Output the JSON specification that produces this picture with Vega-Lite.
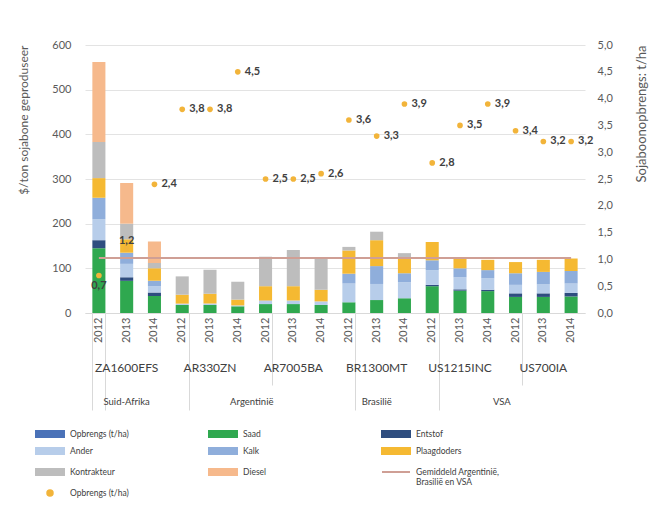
{
  "$schema": "https://vega.github.io/schema/vega-lite/v6.json",
  "width": 500,
  "height": 268,
  "autosize": {"type": "none"},
  "padding": {"left": 85, "top": 45, "right": 74, "bottom": 202},
  "background": "white",
  "config": {
    "font": "Lato",
    "view": {"stroke": null},
    "locale": {"number": {"decimal": ",", "thousands": " ", "grouping": [3], "currency": ["$", ""]}},
    "axis": {"labelFont": "Lato", "titleFont": "Lato", "labelColor": "#595959", "titleColor": "#595959", "titleFontWeight": "normal"}
  },
  "datasets": {
    "rank": [
      {"series": "Saad", "rank": 1},
      {"series": "Entstof", "rank": 2},
      {"series": "Ander", "rank": 3},
      {"series": "Kalk", "rank": 4},
      {"series": "Plaagdoders", "rank": 5},
      {"series": "Kontrakteur", "rank": 6},
      {"series": "Diesel", "rank": 7}
    ],
    "d": [
      {"key": "ZA1600EFS|2012", "Saad": 145, "Entstof": 18, "Ander": 47, "Kalk": 48, "Plaagdoders": 44, "Kontrakteur": 81, "Diesel": 179, "opbrengs": 0.7, "gemiddeld": 123},
      {"key": "ZA1600EFS|2013", "Saad": 72, "Entstof": 8, "Ander": 30, "Kalk": 25, "Plaagdoders": 30, "Kontrakteur": 35, "Diesel": 91, "opbrengs": 1.2, "gemiddeld": 123},
      {"key": "ZA1600EFS|2014", "Saad": 38, "Entstof": 8, "Ander": 14, "Kalk": 12, "Plaagdoders": 28, "Kontrakteur": 12, "Diesel": 48, "opbrengs": 2.4, "gemiddeld": 123},
      {"key": "AR330ZN|2012", "Saad": 18, "Entstof": 0, "Ander": 3, "Kalk": 0, "Plaagdoders": 20, "Kontrakteur": 41, "Diesel": 0, "opbrengs": 3.8, "gemiddeld": 123},
      {"key": "AR330ZN|2013", "Saad": 18, "Entstof": 0, "Ander": 3, "Kalk": 0, "Plaagdoders": 22, "Kontrakteur": 54, "Diesel": 0, "opbrengs": 3.8, "gemiddeld": 123},
      {"key": "AR330ZN|2014", "Saad": 15, "Entstof": 0, "Ander": 2, "Kalk": 0, "Plaagdoders": 13, "Kontrakteur": 40, "Diesel": 0, "opbrengs": 4.5, "gemiddeld": 123},
      {"key": "AR7005BA|2012", "Saad": 20, "Entstof": 0, "Ander": 6, "Kalk": 2, "Plaagdoders": 32, "Kontrakteur": 66, "Diesel": 0, "opbrengs": 2.5, "gemiddeld": 123},
      {"key": "AR7005BA|2013", "Saad": 20, "Entstof": 0, "Ander": 8, "Kalk": 0, "Plaagdoders": 32, "Kontrakteur": 81, "Diesel": 0, "opbrengs": 2.5, "gemiddeld": 123},
      {"key": "AR7005BA|2014", "Saad": 18, "Entstof": 0, "Ander": 8, "Kalk": 0, "Plaagdoders": 26, "Kontrakteur": 73, "Diesel": 0, "opbrengs": 2.6, "gemiddeld": 123},
      {"key": "BR1300MT|2012", "Saad": 24, "Entstof": 0, "Ander": 42, "Kalk": 22, "Plaagdoders": 52, "Kontrakteur": 8, "Diesel": 0, "opbrengs": 3.6, "gemiddeld": 123},
      {"key": "BR1300MT|2013", "Saad": 29, "Entstof": 0, "Ander": 36, "Kalk": 40, "Plaagdoders": 58, "Kontrakteur": 19, "Diesel": 0, "opbrengs": 3.3, "gemiddeld": 123},
      {"key": "BR1300MT|2014", "Saad": 33, "Entstof": 0, "Ander": 36, "Kalk": 20, "Plaagdoders": 36, "Kontrakteur": 9, "Diesel": 0, "opbrengs": 3.9, "gemiddeld": 123},
      {"key": "US1215INC|2012", "Saad": 60, "Entstof": 3, "Ander": 33, "Kalk": 22, "Plaagdoders": 41, "Kontrakteur": 0, "Diesel": 0, "opbrengs": 2.8, "gemiddeld": 123},
      {"key": "US1215INC|2013", "Saad": 50, "Entstof": 3, "Ander": 27, "Kalk": 20, "Plaagdoders": 25, "Kontrakteur": 0, "Diesel": 0, "opbrengs": 3.5, "gemiddeld": 123},
      {"key": "US1215INC|2014", "Saad": 49, "Entstof": 3, "Ander": 26, "Kalk": 18, "Plaagdoders": 23, "Kontrakteur": 0, "Diesel": 0, "opbrengs": 3.9, "gemiddeld": 123},
      {"key": "US700IA|2012", "Saad": 36, "Entstof": 8, "Ander": 19, "Kalk": 26, "Plaagdoders": 25, "Kontrakteur": 0, "Diesel": 0, "opbrengs": 3.4, "gemiddeld": 123},
      {"key": "US700IA|2013", "Saad": 36, "Entstof": 8, "Ander": 20, "Kalk": 28, "Plaagdoders": 27, "Kontrakteur": 0, "Diesel": 0, "opbrengs": 3.2, "gemiddeld": 123},
      {"key": "US700IA|2014", "Saad": 37, "Entstof": 8, "Ander": 21, "Kalk": 28, "Plaagdoders": 28, "Kontrakteur": 0, "Diesel": 0, "opbrengs": 3.2, "gemiddeld": 123}
    ]
  },
  "data": {"name": "d"},
  "layer": [
    {
      "transform": [
        {"fold": ["Saad", "Entstof", "Ander", "Kalk", "Plaagdoders", "Kontrakteur", "Diesel"], "as": ["series", "cost"]},
        {"lookup": "series", "from": {"data": {"name": "rank"}, "key": "series", "fields": ["rank"]}}
      ],
      "mark": {"type": "bar"},
      "encoding": {
        "x": {
          "field": "key", "type": "nominal",
          "scale": {"domain": ["ZA1600EFS|2012","ZA1600EFS|2013","ZA1600EFS|2014","AR330ZN|2012","AR330ZN|2013","AR330ZN|2014","AR7005BA|2012","AR7005BA|2013","AR7005BA|2014","BR1300MT|2012","BR1300MT|2013","BR1300MT|2014","US1215INC|2012","US1215INC|2013","US1215INC|2014","US700IA|2012","US700IA|2013","US700IA|2014"], "paddingInner": 0.53, "paddingOuter": 0.265},
          "axis": {"orient": "bottom", "title": null, "labelExpr": "split(datum.value,'|')[1]", "labelAngle": -90, "labelAlign": "right", "labelBaseline": "middle", "labelPadding": 4, "labelFontSize": 11, "labelOverlap": false, "ticks": false, "domain": true, "domainColor": "#D9D9D9", "grid": false}
        },
        "y": {
          "field": "cost", "type": "quantitative", "stack": "zero",
          "scale": {"domain": [0, 600]},
          "axis": {"title": "$/ton sojabone geproduseer", "values": [0, 100, 200, 300, 400, 500, 600], "grid": true, "gridColor": "#E3E3E3", "domain": false, "ticks": false, "labelPadding": 14, "labelFontSize": 11, "titleFontSize": 12, "titlePadding": 21, "titleAnchor": "end"}
        },
        "order": {"field": "rank", "type": "quantitative", "sort": "ascending"},
        "color": {
          "field": "series", "type": "nominal",
          "scale": {
            "domain": ["Opbrengs (t/ha)", "Saad", "Entstof", "Ander", "Kalk", "Plaagdoders", "Kontrakteur", "Diesel", "Gemiddeld Argentinië, Brasilië en VSA", "Opbrengs (t/ha) "],
            "range": ["#4A72B8", "#2FA84F", "#2E4D7F", "#B7CDEA", "#8FAEDB", "#F5B932", "#BDBDBD", "#F6B98C", "#CF9F95", "#F2B43A"]
          },
          "legend": {
            "orient": "none", "legendX": -41, "legendY": 379, "columns": 3, "direction": "horizontal", "gridAlign": "all",
            "columnPadding": 51, "rowPadding": -2, "title": null, "labelFontSize": 8.5, "labelColor": "#404040", "labelFont": "Lato",
            "symbolType": "M-3,-0.64H3V0.64H-3Z", "symbolSize": 87, "labelOffset": 14, "labelLimit": 0,
            "labelExpr": "datum.label === 'Gemiddeld Argentinië, Brasilië en VSA' ? ['Gemiddeld Argentinië,', 'Brasilië en VSA'] : datum.label",
            "encode": {
              "labels": {"update": {"lineHeight": {"value": 10}}},
              "symbols": {"update": {
                "shape": {"signal": "datum.value === 'Gemiddeld Argentinië, Brasilië en VSA' ? 'M-3,0H3' : datum.value === 'Opbrengs (t/ha) ' ? 'circle' : 'M-3,-0.64H3V0.64H-3Z'"},
                "size": {"signal": "datum.value === 'Opbrengs (t/ha) ' ? 30 : 87"},
                "fill": {"signal": "datum.value === 'Gemiddeld Argentinië, Brasilië en VSA' ? 'transparent' : scale('color', datum.value)"},
                "stroke": {"signal": "datum.value === 'Gemiddeld Argentinië, Brasilië en VSA' ? scale('color', datum.value) : 'transparent'"},
                "strokeWidth": {"value": 2},
                "opacity": {"value": 1}
              }}
            }
          }
        }
      }
    },
    {
      "mark": {"type": "line", "strokeWidth": 2},
      "encoding": {
        "x": {
          "field": "key", "type": "nominal",
          "scale": {"domain": ["ZA1600EFS|2012","ZA1600EFS|2013","ZA1600EFS|2014","AR330ZN|2012","AR330ZN|2013","AR330ZN|2014","AR7005BA|2012","AR7005BA|2013","AR7005BA|2014","BR1300MT|2012","BR1300MT|2013","BR1300MT|2014","US1215INC|2012","US1215INC|2013","US1215INC|2014","US700IA|2012","US700IA|2013","US700IA|2014"], "paddingInner": 0.53, "paddingOuter": 0.265},
          "axis": {"orient": "bottom", "title": null, "labels": false, "domain": false, "grid": false, "ticks": true, "tickBand": "extent", "tickColor": "#D9D9D9", "tickWidth": 1,
            "tickSize": {"condition": [
              {"test": "datum.extra || datum.value == 'ZA1600EFS|2012' || datum.value == 'AR330ZN|2012' || datum.value == 'BR1300MT|2012' || datum.value == 'US1215INC|2012'", "value": 97},
              {"test": "datum.value == 'AR7005BA|2012' || datum.value == 'US700IA|2012'", "value": 72}
            ], "value": 0}
          }
        },
        "y": {"field": "gemiddeld", "type": "quantitative", "scale": {"domain": [0, 600]}, "axis": null},
        "color": {"datum": "Gemiddeld Argentinië, Brasilië en VSA", "type": "nominal"}
      }
    },
    {
      "mark": {"type": "point", "filled": true, "size": 32, "opacity": 1, "shape": "circle"},
      "encoding": {
        "x": {
          "field": "key", "type": "nominal",
          "scale": {"domain": ["ZA1600EFS|2012","ZA1600EFS|2013","ZA1600EFS|2014","AR330ZN|2012","AR330ZN|2013","AR330ZN|2014","AR7005BA|2012","AR7005BA|2013","AR7005BA|2014","BR1300MT|2012","BR1300MT|2013","BR1300MT|2014","US1215INC|2012","US1215INC|2013","US1215INC|2014","US700IA|2012","US700IA|2013","US700IA|2014"], "paddingInner": 0.53, "paddingOuter": 0.265},
          "axis": {"orient": "bottom", "offset": 48, "title": null, "ticks": false, "domain": false, "grid": false, "labelExpr": "split(datum.value,'|')[1] == '2013' ? split(datum.value,'|')[0] : ''", "labelAngle": 0, "labelAlign": "center", "labelBaseline": "top", "labelFontSize": 12, "labelColor": "#404040", "labelPadding": 1, "labelOverlap": false}
        },
        "y": {
          "field": "opbrengs", "type": "quantitative", "scale": {"domain": [0, 5]},
          "axis": {"orient": "right", "title": "Sojaboonopbrengs: t/ha", "values": [0, 0.5, 1, 1.5, 2, 2.5, 3, 3.5, 4, 4.5, 5], "format": ".1f", "grid": false, "domain": false, "ticks": false, "labelPadding": 12, "labelFontSize": 11, "titleFontSize": 13, "titleAngle": 270, "titlePadding": 36, "titleAnchor": "end"}
        },
        "color": {"datum": "Opbrengs (t/ha) ", "type": "nominal"}
      }
    },
    {
      "transform": [{"filter": "datum.opbrengs >= 1.5"}],
      "mark": {"type": "text", "align": "left", "baseline": "middle", "dx": 7, "fontSize": 11, "fontWeight": "bold", "color": "#404040"},
      "encoding": {
        "x": {
          "field": "key", "type": "nominal",
          "scale": {"domain": ["ZA1600EFS|2012","ZA1600EFS|2013","ZA1600EFS|2014","AR330ZN|2012","AR330ZN|2013","AR330ZN|2014","AR7005BA|2012","AR7005BA|2013","AR7005BA|2014","BR1300MT|2012","BR1300MT|2013","BR1300MT|2014","US1215INC|2012","US1215INC|2013","US1215INC|2014","US700IA|2012","US700IA|2013","US700IA|2014"], "paddingInner": 0.53, "paddingOuter": 0.265},
          "axis": {"orient": "bottom", "offset": 81, "title": null, "ticks": false, "domain": false, "grid": false,
            "labelExpr": "datum.value == 'ZA1600EFS|2013' ? 'Suid-Afrika' : datum.value == 'AR330ZN|2014' ? 'Argentinië' : datum.value == 'BR1300MT|2013' ? 'Brasilië' : datum.value == 'US1215INC|2014' ? 'VSA' : ''",
            "labelOffset": {"condition": {"test": "datum.value == 'AR330ZN|2014' || datum.value == 'US1215INC|2014'", "value": 14}, "value": 0},
            "labelAngle": 0, "labelAlign": "center", "labelBaseline": "top", "labelFontSize": 9.5, "labelColor": "#404040", "labelPadding": 2, "labelOverlap": false}
        },
        "y": {"field": "opbrengs", "type": "quantitative", "scale": {"domain": [0, 5]}, "axis": null},
        "text": {"field": "opbrengs", "type": "quantitative", "format": ".1f"}
      }
    },
    {
      "transform": [{"filter": "datum.opbrengs < 1"}],
      "mark": {"type": "text", "align": "center", "baseline": "middle", "dy": 11, "fontSize": 11, "fontWeight": "bold", "color": "#404040"},
      "encoding": {
        "x": {
          "field": "key", "type": "nominal",
          "scale": {"domain": ["ZA1600EFS|2012","ZA1600EFS|2013","ZA1600EFS|2014","AR330ZN|2012","AR330ZN|2013","AR330ZN|2014","AR7005BA|2012","AR7005BA|2013","AR7005BA|2014","BR1300MT|2012","BR1300MT|2013","BR1300MT|2014","US1215INC|2012","US1215INC|2013","US1215INC|2014","US700IA|2012","US700IA|2013","US700IA|2014"], "paddingInner": 0.53, "paddingOuter": 0.265},
          "axis": null
        },
        "y": {"field": "opbrengs", "type": "quantitative", "scale": {"domain": [0, 5]}, "axis": null},
        "text": {"field": "opbrengs", "type": "quantitative", "format": ".1f"}
      }
    },
    {
      "transform": [{"filter": "datum.opbrengs >= 1 && datum.opbrengs < 1.5"}],
      "mark": {"type": "text", "align": "center", "baseline": "middle", "dy": -8, "fontSize": 11, "fontWeight": "bold", "color": "#404040"},
      "encoding": {
        "x": {
          "field": "key", "type": "nominal",
          "scale": {"domain": ["ZA1600EFS|2012","ZA1600EFS|2013","ZA1600EFS|2014","AR330ZN|2012","AR330ZN|2013","AR330ZN|2014","AR7005BA|2012","AR7005BA|2013","AR7005BA|2014","BR1300MT|2012","BR1300MT|2013","BR1300MT|2014","US1215INC|2012","US1215INC|2013","US1215INC|2014","US700IA|2012","US700IA|2013","US700IA|2014"], "paddingInner": 0.53, "paddingOuter": 0.265},
          "axis": null
        },
        "y": {"field": "opbrengs", "type": "quantitative", "scale": {"domain": [0, 5]}, "axis": null},
        "text": {"field": "opbrengs", "type": "quantitative", "format": ".1f"}
      }
    }
  ],
  "resolve": {"scale": {"y": "independent"}, "axis": {"x": "independent"}}
}
